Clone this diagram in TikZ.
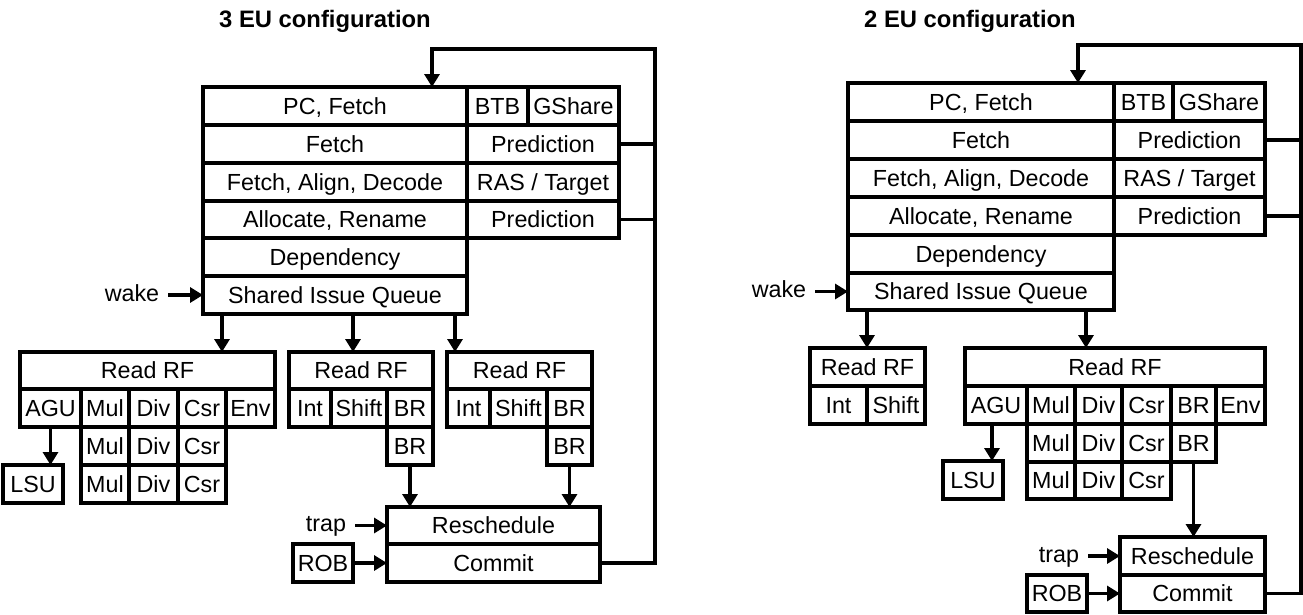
\documentclass[tikz,border=0pt]{standalone}
\usepackage{fontspec}
\setmainfont{Liberation Sans}
\usetikzlibrary{arrows.meta}
\tikzset{
  cell/.style={draw, line width=3.2pt, inner sep=0pt, outer sep=0pt, text height=16.7pt, text depth=0pt, font=\fontsize{23.3}{28}\selectfont},
  conn/.style={line width=3.2pt},
  arr/.style={conn, -{Triangle[length=13pt,width=15pt]}},
  lbl/.style={font=\fontsize{23.3}{28}\selectfont, inner ysep=0pt, inner xsep=9pt, outer sep=0pt, text height=12pt, text depth=0pt},
  ttl/.style={font=\bfseries\fontsize{23.8}{28}\selectfont, inner sep=0pt, text height=17pt, text depth=0pt}
}
\newcommand{\cellbox}[6]{\node[cell, minimum width={(#4-#2)*1pt}, minimum height={(#5-#3)*1pt}] (#1) at ({(#2+#4)/2},{(#3+#5)/2}) {#6};}
\begin{document}
\begin{tikzpicture}[x=1pt,y=-1pt]
\useasboundingbox (0,0) rectangle (1303,614);

% ================= 3 EU configuration =================
\node[ttl] (titleL) at (325,19) {3 EU configuration};

\cellbox{pcL}{203}{87}{467}{125}{PC, Fetch}
\cellbox{btbL}{467}{87}{528}{125}{BTB}
\cellbox{gshL}{528}{87}{619}{125}{GShare}
\cellbox{fetchL}{203}{125}{467}{163}{Fetch}
\cellbox{predAL}{467}{125}{619}{163}{Prediction}
\cellbox{fadL}{203}{163}{467}{201}{Fetch, Align, Decode}
\cellbox{rasL}{467}{163}{619}{201}{RAS / Target}
\cellbox{allocL}{203}{201}{467}{238}{Allocate, Rename}
\cellbox{predBL}{467}{201}{619}{238}{Prediction}
\cellbox{depL}{203}{238}{467}{276}{Dependency}
\cellbox{siqL}{203}{276}{467}{314}{Shared Issue Queue}

\node[lbl] (wakeL) at (132,295) {wake};
\draw[arr] (wakeL.east) -- (siqL.west);

% Read RF A
\cellbox{rfA}{20}{352}{275}{389}{Read RF}
\cellbox{aguA}{20}{389}{81}{427}{AGU}
\cellbox{mulA1}{81}{389}{129}{427}{Mul}
\cellbox{divA1}{129}{389}{178}{427}{Div}
\cellbox{csrA1}{178}{389}{226}{427}{Csr}
\cellbox{envA}{226}{389}{275}{427}{Env}
\cellbox{mulA2}{81}{427}{129}{465}{Mul}
\cellbox{divA2}{129}{427}{178}{465}{Div}
\cellbox{csrA2}{178}{427}{226}{465}{Csr}
\cellbox{mulA3}{81}{465}{129}{503}{Mul}
\cellbox{divA3}{129}{465}{178}{503}{Div}
\cellbox{csrA3}{178}{465}{226}{503}{Csr}
\cellbox{lsuA}{3}{465}{63}{503}{LSU}
\draw[arr] (aguA.south) -- (aguA.south |- lsuA.north);

% Read RF B
\cellbox{rfB}{289}{352}{433}{389}{Read RF}
\cellbox{intB}{289}{389}{331}{427}{Int}
\cellbox{shiftB}{331}{389}{387}{427}{Shift}
\cellbox{brB1}{387}{389}{433}{427}{BR}
\cellbox{brB2}{387}{427}{433}{465}{BR}

% Read RF C
\cellbox{rfC}{447}{352}{592}{389}{Read RF}
\cellbox{intC}{447}{389}{490}{427}{Int}
\cellbox{shiftC}{490}{389}{547}{427}{Shift}
\cellbox{brC1}{547}{389}{592}{427}{BR}
\cellbox{brC2}{547}{427}{592}{465}{BR}

\draw[arr] ([xshift=19pt]siqL.south west) -- ([xshift=19pt]siqL.south west |- rfA.north);
\draw[arr] ([xshift=150pt]siqL.south west) -- ([xshift=150pt]siqL.south west |- rfB.north);
\draw[arr] ([xshift=252pt]siqL.south west) -- ([xshift=252pt]siqL.south west |- rfC.north);

% Reschedule / Commit
\cellbox{reschL}{387}{507}{600}{544}{Reschedule}
\cellbox{commitL}{387}{544}{600}{582}{Commit}
\cellbox{robL}{293}{544}{353}{582}{ROB}
\node[lbl] (trapL) at (326,525.5) {trap};
\draw[arr] (trapL.east) -- (reschL.west);
\draw[arr] (robL.east) -- (commitL.west);
\draw[arr] (brB2.south) -- (brB2.south |- reschL.north);
\draw[arr] (brC2.south) -- (brC2.south |- reschL.north);

% feedback loop
\coordinate (loopL) at (655,49);
\draw[arr] (commitL.east) -| (loopL) -| ([xshift=229pt]pcL.north west);
\draw[conn] (predAL.east) -- (predAL.east -| loopL);
\draw[conn] (predBL.east) -- (predBL.east -| loopL);

% ================= 2 EU configuration =================
\node[ttl] (titleR) at (970,19) {2 EU configuration};

\cellbox{pcR}{848}{83}{1114}{121}{PC, Fetch}
\cellbox{btbR}{1114}{83}{1173}{121}{BTB}
\cellbox{gshR}{1173}{83}{1265}{121}{GShare}
\cellbox{fetchR}{848}{121}{1114}{159}{Fetch}
\cellbox{predAR}{1114}{121}{1265}{159}{Prediction}
\cellbox{fadR}{848}{159}{1114}{197}{Fetch, Align, Decode}
\cellbox{rasR}{1114}{159}{1265}{197}{RAS / Target}
\cellbox{allocR}{848}{197}{1114}{235}{Allocate, Rename}
\cellbox{predBR}{1114}{197}{1265}{235}{Prediction}
\cellbox{depR}{848}{235}{1114}{273}{Dependency}
\cellbox{siqR}{848}{273}{1114}{310}{Shared Issue Queue}

\node[lbl] (wakeR) at (779,291.5) {wake};
\draw[arr] (wakeR.east) -- (siqR.west);

% Read RF small
\cellbox{rfD}{810}{348}{925}{386}{Read RF}
\cellbox{intD}{810}{386}{867}{424}{Int}
\cellbox{shiftD}{867}{386}{925}{424}{Shift}

% Read RF big
\cellbox{rfE}{965}{348}{1265}{386}{Read RF}
\cellbox{aguE}{965}{386}{1027}{424}{AGU}
\cellbox{mulE1}{1027}{386}{1075}{424}{Mul}
\cellbox{divE1}{1075}{386}{1122}{424}{Div}
\cellbox{csrE1}{1122}{386}{1171}{424}{Csr}
\cellbox{brE1}{1171}{386}{1216}{424}{BR}
\cellbox{envE}{1216}{386}{1265}{424}{Env}
\cellbox{mulE2}{1027}{424}{1075}{462}{Mul}
\cellbox{divE2}{1075}{424}{1122}{462}{Div}
\cellbox{csrE2}{1122}{424}{1171}{462}{Csr}
\cellbox{brE2}{1171}{424}{1216}{462}{BR}
\cellbox{mulE3}{1027}{462}{1075}{499}{Mul}
\cellbox{divE3}{1075}{462}{1122}{499}{Div}
\cellbox{csrE3}{1122}{462}{1171}{499}{Csr}
\cellbox{lsuE}{943}{461}{1003}{499}{LSU}
\draw[arr] ([xshift=-4pt]aguE.south) -- ([xshift=-4pt]aguE.south |- lsuE.north);

\draw[arr] ([xshift=19pt]siqR.south west) -- ([xshift=19pt]siqR.south west |- rfD.north);
\draw[arr] ([xshift=238pt]siqR.south west) -- ([xshift=238pt]siqR.south west |- rfE.north);

% Reschedule / Commit
\cellbox{reschR}{1120}{537}{1265}{575}{Reschedule}
\cellbox{commitR}{1120}{575}{1265}{612}{Commit}
\cellbox{robR}{1027}{575}{1087}{612}{ROB}
\node[lbl] (trapR) at (1059,556) {trap};
\draw[arr] (trapR.east) -- (reschR.west);
\draw[arr] (robR.east) -- (commitR.west);
\draw[arr] (brE2.south) -- (brE2.south |- reschR.north);

% feedback loop
\coordinate (loopR) at (1301,45);
\draw[arr] (commitR.east) -| (loopR) -| ([xshift=230pt]pcR.north west);
\draw[conn] (predAR.east) -- (predAR.east -| loopR);
\draw[conn] (predBR.east) -- (predBR.east -| loopR);
\end{tikzpicture}
\end{document}
